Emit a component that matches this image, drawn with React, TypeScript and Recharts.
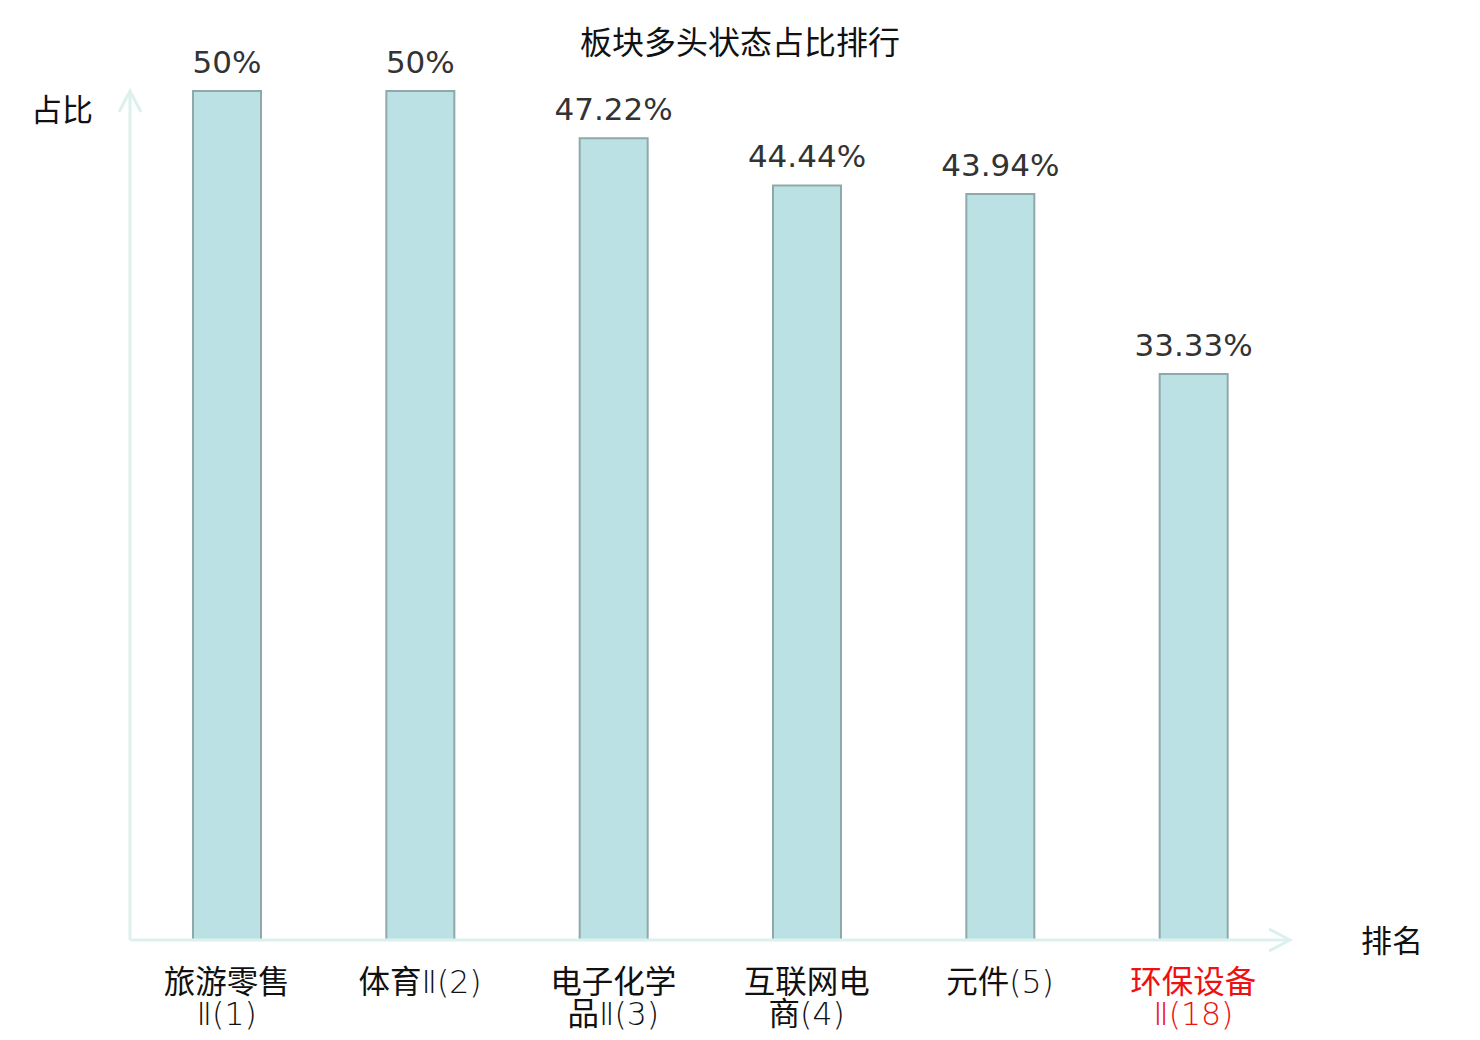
import { BarChart, Bar, XAxis, YAxis, LabelList } from "recharts";

const categories = [
  "旅游零售Ⅱ(1)",
  "体育Ⅱ(2)",
  "电子化学品Ⅱ(3)",
  "互联网电商(4)",
  "元件(5)",
  "环保设备Ⅱ(18)",
];
const shares = [50, 50, 47.22, 44.44, 43.94, 33.33];
const highlighted = ["环保设备Ⅱ(18)"];

const data = categories.map((name, i) => ({ name, value: shares[i] }));

const AXIS = "#dcf1ee";
const CJK = "'Noto Sans CJK SC', 'DejaVu Sans', sans-serif";
const LATIN = "'DejaVu Sans', 'Noto Sans CJK SC', sans-serif";

const isCJK = (c: string) => /[\u4e00-\u9fff]/.test(c);

// rough em widths so long names break after ~4 CJK characters
function charEm(c: string): number {
  if (isCJK(c)) return 1;
  if (c === "Ⅱ") return 0.4;
  if (c === "(" || c === ")") return 0.39;
  return 0.6;
}

function wrap(name: string, maxEm = 4.2): string[] {
  const lines: string[] = [];
  let cur = "";
  let w = 0;
  for (const c of name) {
    const cw = charEm(c);
    if (w + cw > maxEm && cur) {
      lines.push(cur);
      cur = "";
      w = 0;
    }
    cur += c;
    w += cw;
  }
  if (cur) lines.push(cur);
  return lines;
}

// split a line into runs of CJK / non-CJK so the latin bits get a lighter face
function runs(line: string): { text: string; cjk: boolean }[] {
  const out: { text: string; cjk: boolean }[] = [];
  for (const c of line) {
    const k = isCJK(c);
    const last = out[out.length - 1];
    if (last && last.cjk === k) last.text += c;
    else out.push({ text: c, cjk: k });
  }
  return out;
}

function CategoryTick(props: any) {
  const { x, y, payload } = props;
  const lines = wrap(payload.value);
  const red = highlighted.includes(payload.value);
  return (
    <text x={x} y={y} textAnchor="middle" fontSize={31.5} fill={red ? "#ee1111" : "#111"}>
      {lines.map((l, i) =>
        runs(l).map((r, j) => (
          <tspan
            key={`${i}-${j}`}
            x={j === 0 ? x : undefined}
            dy={j === 0 ? (i === 0 ? 45 : 32) : undefined}
            fontFamily={r.cjk ? CJK : LATIN}
            fontWeight={r.cjk ? 400 : 200}
          >
            {r.text}
          </tspan>
        ))
      )}
    </text>
  );
}

function AxisName(props: any) {
  const { viewBox, value, dx, dy } = props;
  return (
    <text
      x={viewBox.x + dx}
      y={viewBox.y + dy}
      fontSize={31}
      fontFamily={CJK}
      fill="#111"
    >
      {value}
    </text>
  );
}

export default function App() {
  return (
    <div
      style={{
        position: "absolute",
        left: 0,
        top: 0,
        width: 1480,
        height: 1040,
        background: "#fff",
      }}
    >
      <div
        style={{
          position: "absolute",
          left: 0,
          top: 20,
          width: 1480,
          textAlign: "center",
          fontFamily: CJK,
          fontSize: 32,
          lineHeight: "40px",
          color: "#111",
        }}
      >
        板块多头状态占比排行
      </div>
      <BarChart
        width={1480}
        height={1040}
        data={data}
        margin={{ top: 91, right: 190, bottom: 0, left: 128 }}
        barCategoryGap={0}
      >
        <defs>
          <marker
            id="axisArrow"
            viewBox="-24 -14 28 28"
            refX={0}
            refY={0}
            markerWidth={28}
            markerHeight={28}
            markerUnits="userSpaceOnUse"
            orient="auto-start-reverse"
          >
            <path
              d="M-21,-11 L0,0 L-21,11"
              fill="none"
              stroke={AXIS}
              strokeWidth={3}
              strokeLinejoin="miter"
            />
          </marker>
        </defs>
        <XAxis
          dataKey="name"
          axisLine={{ stroke: AXIS, strokeWidth: 3, markerEnd: "url(#axisArrow)" }}
          tickLine={false}
          interval={0}
          height={100}
          tick={<CategoryTick />}
          label={<AxisName value="排名" dx={1231} dy={12} />}
        />
        <YAxis
          domain={[0, 50]}
          width={2}
          tick={false}
          tickLine={false}
          axisLine={{ stroke: AXIS, strokeWidth: 3, markerStart: "url(#axisArrow)" }}
          label={<AxisName value="占比" dx={-97} dy={30} />}
        />
        <Bar
          dataKey="value"
          barSize={68}
          fill="#bce1e4"
          stroke="#8ea9aa"
          strokeWidth={2}
          isAnimationActive={false}
        >
          <LabelList
            dataKey="value"
            position="top"
            offset={18}
            formatter={(v: any) => `${v}%`}
            fill="#333"
            fontSize={31}
            fontFamily={LATIN}
          />
        </Bar>
      </BarChart>
    </div>
  );
}
